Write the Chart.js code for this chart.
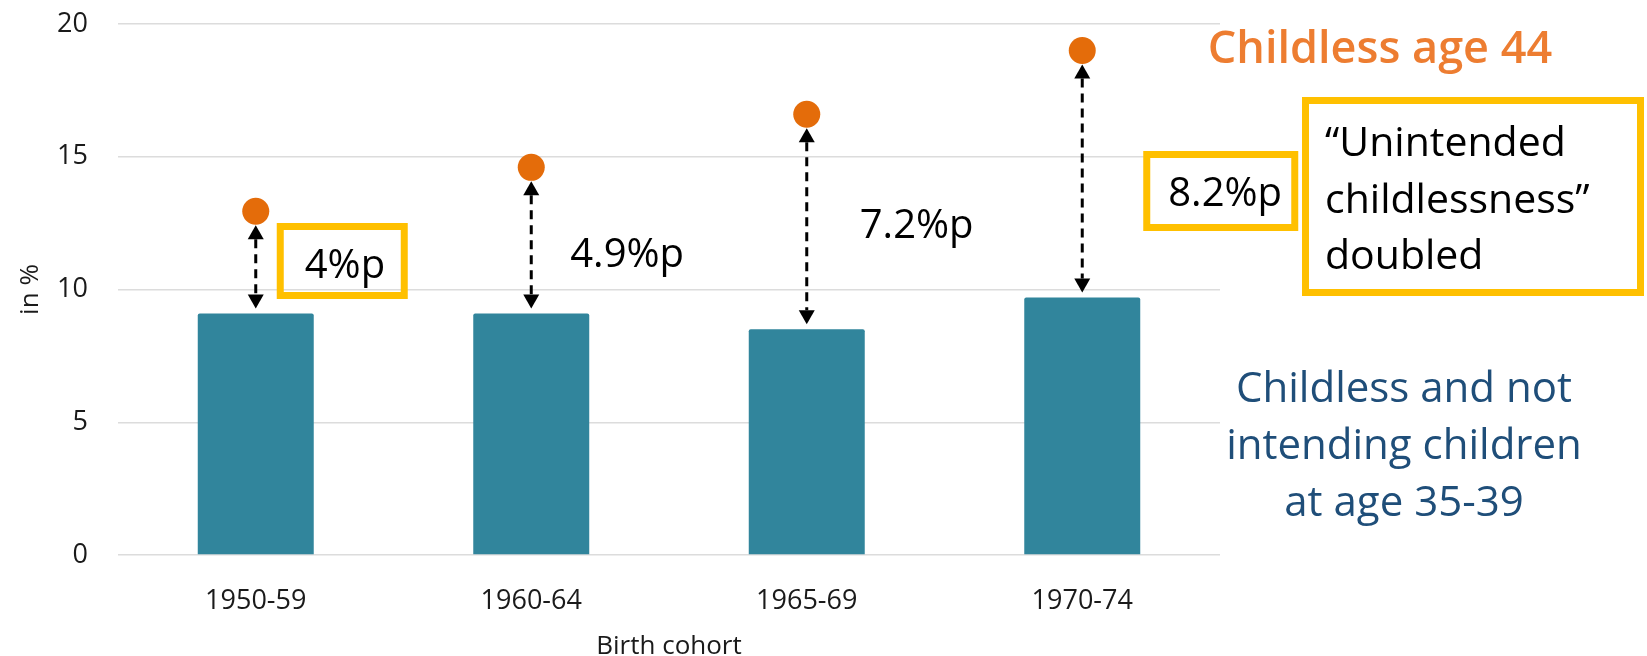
<!DOCTYPE html>
<html><head><meta charset="utf-8">
<script src="https://cdn.jsdelivr.net/npm/chart.js@4.4.0/dist/chart.umd.min.js"></script>
<style>html,body{margin:0;padding:0;background:#fff;} canvas{display:block;}</style>
</head><body>
<canvas id="c" width="1647" height="656"></canvas>
<script>
// ---- data ----
const categories = ['1950-59', '1960-64', '1965-69', '1970-74'];
const notIntending = [9.1, 9.1, 8.5, 9.7];      // bars: childless & not intending at 35-39
const childless44 = [12.95, 14.6, 16.6, 19.0];  // dots: childless at age 44
const gapLabels = ['4%p', '4.9%p', '7.2%p', '8.2%p'];
const yTickValues = [0, 5, 10, 15, 20];
const yAxisTitle = 'in %';
const xAxisTitle = 'Birth cohort';
const dotsTitle = 'Childless age 44';
const barsTitle = ['Childless and not', 'intending children', 'at age 35-39'];
const noteLines = ['\u201CUnintended', 'childlessness\u201D', 'doubled'];

const FONT = '"Open Sans", "Noto Sans", sans-serif';
const YELLOW = '#FFC000';

const annot = {
  id: 'annot',
  afterDatasetsDraw(chart) {
    const ctx = chart.ctx, xs = chart.scales.x, ys = chart.scales.y;
    ctx.save();
    // double-headed dashed arrows between bar top and dot
    for (let i = 0; i < categories.length; i++) {
      const x = xs.getPixelForValue(i);
      const yTop = ys.getPixelForValue(childless44[i]) + 14;
      const yBot = ys.getPixelForValue(notIntending[i]) - 5;
      const head = 14, hw = 8;
      ctx.strokeStyle = '#000'; ctx.lineWidth = 3; ctx.setLineDash([9, 6]);
      ctx.beginPath(); ctx.moveTo(x, yTop + head); ctx.lineTo(x, yBot - head); ctx.stroke();
      ctx.setLineDash([]);
      ctx.fillStyle = '#000';
      ctx.beginPath(); ctx.moveTo(x, yTop); ctx.lineTo(x - hw, yTop + head); ctx.lineTo(x + hw, yTop + head); ctx.closePath(); ctx.fill();
      ctx.beginPath(); ctx.moveTo(x, yBot); ctx.lineTo(x - hw, yBot - head); ctx.lineTo(x + hw, yBot - head); ctx.closePath(); ctx.fill();
    }
    // gap labels
    const gl = [
      {dx: 49, base: 278, box: {dx: 21, y: 223, w: 131, h: 76}},
      {dx: 39, base: 267},
      {dx: 53, base: 238},
      {dx: 86, base: 206, box: {dx: 61, y: 151, w: 155, h: 80}}
    ];
    ctx.font = '40px ' + FONT;
    ctx.textBaseline = 'alphabetic';
    ctx.textAlign = 'left';
    gl.forEach((g, i) => {
      const cx = xs.getPixelForValue(i);
      if (g.box) {
        ctx.strokeStyle = YELLOW; ctx.lineWidth = 7; ctx.lineJoin = 'miter';
        ctx.strokeRect(cx + g.box.dx + 3.5, g.box.y + 3.5, g.box.w - 7, g.box.h - 7);
      }
      ctx.fillStyle = '#000';
      ctx.fillText(gapLabels[i], cx + g.dx, g.base);
    });
    // big note box
    ctx.strokeStyle = YELLOW; ctx.lineWidth = 7;
    ctx.strokeRect(1302 + 3.5, 97 + 3.5, 342 - 7, 199 - 7);
    ctx.fillStyle = '#000';
    ctx.font = '41px ' + FONT;
    noteLines.forEach((t, k) => ctx.fillText(t, 1325, 156 + k * 56.5));
    // series titles
    ctx.textAlign = 'center';
    ctx.fillStyle = '#ED7D31';
    ctx.font = '600 45px ' + FONT;
    ctx.fillText(dotsTitle, 1380, 63);
    ctx.fillStyle = '#1F4E79';
    ctx.font = '42px ' + FONT;
    barsTitle.forEach((t, k) => ctx.fillText(t, 1404, 402 + k * 57));
    ctx.restore();
  }
};

new Chart(document.getElementById('c'), {
  type: 'bar',
  data: {
    labels: categories,
    datasets: [
      {
        type: 'line',
        label: dotsTitle,
        data: childless44,
        showLine: false,
        pointRadius: 13.5,
        pointBackgroundColor: '#E46C0A',
        pointBorderWidth: 0,
        pointBorderColor: '#E46C0A',
        order: 0
      },
      {
        label: barsTitle.join(' '),
        data: notIntending,
        backgroundColor: '#31859C',
        barPercentage: 0.421,
        categoryPercentage: 1,
        borderRadius: 2,
        borderSkipped: 'start',
        order: 1
      }
    ]
  },
  options: {
    responsive: false,
    animation: false,
    layout: {padding: {top: 24, right: 427, left: 0, bottom: 0}},
    plugins: {legend: {display: false}, tooltip: {enabled: false}},
    scales: {
      x: {
        offset: true,
        grid: {display: false},
        border: {display: false},
        ticks: {color: '#1a1a1a', font: {family: FONT, size: 27}, padding: 22, maxRotation: 0},
        title: {display: true, text: xAxisTitle, color: '#1a1a1a', font: {family: FONT, size: 26, lineHeight: 0.7}, padding: {top: 0, bottom: 0}},
        afterFit(s) { s.height = 101; s.paddingLeft = 0; s.paddingRight = 0; }
      },
      y: {
        min: 0, max: 20,
        afterBuildTicks(s) { s.ticks = yTickValues.map(v => ({value: v})); },
        grid: {color: '#DCDCDC', lineWidth: 1.5, drawTicks: false},
        border: {display: false},
        ticks: {color: '#1a1a1a', font: {family: FONT, size: 27}, padding: 30},
        title: {display: true, text: yAxisTitle, color: '#1a1a1a', font: {family: FONT, size: 26, lineHeight: 1.2}, padding: {top: 15, bottom: 0}},
        afterFit(s) { s.width = 118; s.paddingTop = 0; s.paddingBottom = 0; }
      }
    }
  },
  plugins: [annot]
});
</script>
</body></html>
